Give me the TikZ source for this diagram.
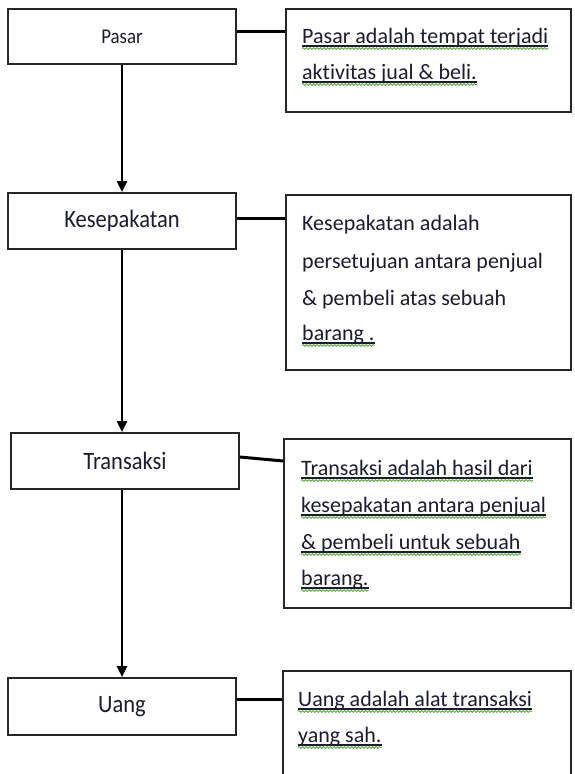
\documentclass[tikz,border=0pt]{standalone}
\usepackage{fontspec}
\setmainfont[Ligatures=NoCommon]{Carlito}
\newfontfamily\lblfont[FakeStretch=0.9,Ligatures=NoCommon]{Carlito}
\usetikzlibrary{decorations.pathmorphing,arrows.meta}
\definecolor{ink}{HTML}{1C1C30}
\definecolor{wavy}{HTML}{5AAA3C}
\begin{document}
\begin{tikzpicture}[x=1pt,y=-1pt,
  lbox/.style={draw=black!85,line width=1.6pt,minimum width=228pt,inner sep=0pt,text=ink,font=\lblfont\fontsize{25}{30}\selectfont},
  dbox/.style={draw=black!85,line width=1.6pt,inner sep=0pt},
  flow/.style={line width=2.4pt,-{Triangle[length=11pt,width=10pt]}},
  link/.style={line width=3pt},
  txt/.style={anchor=base west,inner sep=0pt,text=ink,font=\fontsize{22}{26}\selectfont},
  ul/.style={line width=1.1pt,ink},
  wv/.style={wavy,line width=0.8pt,decorate,decoration={snake,amplitude=0.9pt,segment length=3.5pt}}]
\useasboundingbox (0,0) rectangle (574,774);
\clip (0,0) rectangle (574,774);
\fill[white] (0,0) rectangle (574,774);

% left boxes
\node[lbox,minimum height=55pt,font=\lblfont\fontsize{21}{25}\selectfont] (pasar) at (122,36.5) {Pasar};
\node[lbox,minimum height=56pt] (kes) at (122,221) {Kesepakatan};
\node[lbox,minimum height=56pt] (tra) at (125,461) {Transaksi};
\node[lbox,minimum height=57pt] (uang) at (122,706.5) {Uang};

% description boxes
\node[dbox,minimum width=285pt,minimum height=103pt] (d1) at (428.5,60.5) {};
\node[dbox,minimum width=285pt,minimum height=175pt] (d2) at (428.5,282.5) {};
\node[dbox,minimum width=287pt,minimum height=169pt] (d3) at (427.5,523.5) {};
\node[dbox,minimum width=288pt,minimum height=129pt] (d4) at (427,735.5) {};

% flow arrows
\draw[flow] (pasar.south -| kes.south) -- (kes.north);
\draw[flow] (kes.south) -- (kes.south |- tra.north);
\draw[flow] (kes.south |- tra.south) -- (kes.south |- uang.north);

% links
\draw[link] ([yshift=5.5pt]pasar.east) -- ([yshift=5.5pt]pasar.east -| d1.west);
\draw[link] ([yshift=3pt]kes.east) -- ([yshift=3pt]kes.east -| d2.west);
\draw[link] ([yshift=4pt]tra.east) -- (tra.east -| d3.west);
\draw[link] ([yshift=7.5pt]uang.east) -- ([yshift=7.5pt]uang.east -| d4.west);

% texts
\node[txt] (t11) at (302,43) {Pasar adalah tempat terjadi};
\node[txt] (t12) at (302,79) {aktivitas jual \& beli.};

\node[txt] (t21) at (302,230) {Kesepakatan adalah};
\node[txt] (t22) at (302,268) {persetujuan antara penjual};
\node[txt] (t23) at (302,305) {\& pembeli atas sebuah};
\node[txt] (t24) at (302,340) {barang .};

\node[txt] (t31) at (301,475) {Transaksi adalah hasil dari};
\node[txt] (t32) at (301,512) {kesepakatan antara penjual};
\node[txt] (t33) at (301,549) {\& pembeli untuk sebuah};
\node[txt] (t34) at (301,585) {barang.};

\node[txt] (t41) at (298,706) {Uang adalah alat transaksi};
\node[txt] (t42) at (298,742) {yang sah.};

\foreach \t in {t11,t12,t24,t31,t32,t33,t34,t41,t42}{
  \draw[ul] ([yshift=-3pt]\t.base west) -- ([yshift=-3pt]\t.base east);
  \draw[wv] ([yshift=-5.5pt]\t.base west) -- ([yshift=-5.5pt]\t.base east);
}
\end{tikzpicture}
\end{document}
